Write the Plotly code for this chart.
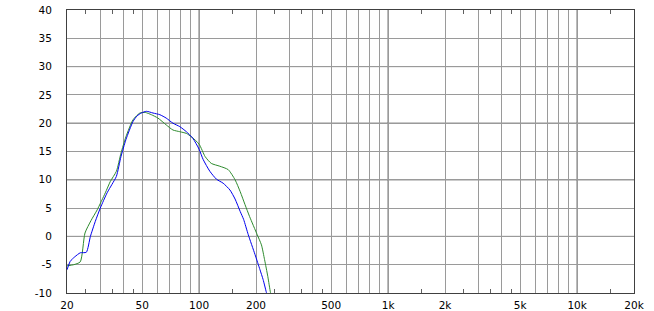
import plotly.graph_objects as go

# --- data ---
blue_f = [20, 20.8, 22.0, 23.5, 25.3, 26.6, 28.2, 30.0, 32.6, 34.6, 36.5, 38.6, 41.0, 44.7, 47.0, 49.5, 52.6, 57, 62, 67, 72.7,
          79, 85.6, 92.8, 100, 105, 114, 123.6, 134, 145.6, 155, 165, 172, 182, 197.6, 210, 218, 227, 232]
blue_v = [-5.9, -4.4, -3.6, -2.9, -2.8, 0.0, 2.6, 5.0, 7.7, 9.2, 10.6, 14.1, 17.1, 20.3, 21.3, 21.8, 22.1, 21.8, 21.5, 20.9, 20.0,
          19.4, 18.5, 17.3, 15.4, 13.6, 11.5, 10.1, 9.4, 8.2, 6.6, 4.4, 3.0, 0.3, -3.2, -5.9, -7.6, -9.9, -11]

green_f = [20, 21.7, 23.5, 24.9, 26.8, 28.9, 31.9, 33.9, 36.5, 38.6, 41, 44.7, 48.6, 51.9, 55.9, 60.6, 67, 72.7,
           79, 85.6, 91, 100, 107.6, 116, 128.7, 142.5, 155, 165, 175, 185, 203, 213.7, 222, 231, 238.5, 243]
green_v = [-5.2, -5.0, -4.5, 0.6, 2.8, 4.7, 7.7, 9.7, 11.5, 14.7, 17.6, 20.6, 21.8, 21.9, 21.5, 20.9, 19.7, 18.8,
           18.5, 18.2, 17.6, 16.3, 14.1, 12.9, 12.4, 11.8, 10.0, 7.9, 5.6, 3.5, 0.3, -1.5, -4.1, -7.1, -9.9, -11]

x_grid = [20, 30, 40, 50, 60, 70, 80, 90, 100, 200, 300, 400, 500, 600, 700, 800, 900,
          1000, 2000, 3000, 4000, 5000, 6000, 7000, 8000, 9000, 10000, 20000]
x_labels = {20: "20", 50: "50", 100: "100", 200: "200", 500: "500", 1000: "1k",
            2000: "2k", 5000: "5k", 10000: "10k", 20000: "20k"}
x_minor = [25, 35, 45, 150, 250, 350, 450, 1500, 2500, 3500, 4500, 15000]
x_major_dark = [100, 1000, 10000]
y_ticks = [-10, -5, 0, 5, 10, 15, 20, 25, 30, 35, 40]
y_major_dark = [0, 10, 20, 30]

LIGHT = "#9a9a9a"
DARK = "#505050"
FONT = dict(family="DejaVu Sans, Verdana, sans-serif", size=10.5, color="#000000")

fig = go.Figure()
fig.add_trace(go.Scatter(x=green_f, y=green_v, mode="lines",
                         line=dict(color="#2e8b2e", width=1, shape="spline", smoothing=0.6), showlegend=False))
fig.add_trace(go.Scatter(x=blue_f, y=blue_v, mode="lines",
                         line=dict(color="#0000ee", width=1, shape="spline", smoothing=0.6), showlegend=False))

shapes = []
for xv in x_major_dark:
    shapes.append(dict(type="line", xref="x", yref="paper", x0=xv, x1=xv, y0=0, y1=1,
                       line=dict(color=DARK, width=1), layer="between"))
for yv in y_major_dark:
    shapes.append(dict(type="line", xref="paper", yref="y", x0=0, x1=1, y0=yv, y1=yv,
                       line=dict(color=DARK, width=1), layer="between"))

fig.update_layout(
    width=654, height=311,
    margin=dict(l=67, r=20, t=10, b=18),
    paper_bgcolor="white", plot_bgcolor="white",
    font=FONT,
    shapes=shapes,
    xaxis=dict(
        type="log", range=[1.30103, 4.30103], automargin=False,
        tickmode="array", tickvals=x_grid,
        ticktext=[x_labels.get(v, "") for v in x_grid],
        ticks="", showgrid=True, gridcolor=LIGHT, gridwidth=1,
        showline=True, linecolor="#404040", linewidth=1, mirror="ticks",
        zeroline=False, tickfont=FONT, ticklabelstandoff=2,
        minor=dict(tickmode="array", tickvals=x_minor, ticks="inside", ticklen=4,
                   tickcolor="#606060", tickwidth=1, showgrid=False),
    ),
    yaxis=dict(
        range=[-10, 40], tickmode="array", tickvals=y_ticks, automargin=False,
        ticktext=[str(v) for v in y_ticks],
        ticks="", showgrid=True, gridcolor=LIGHT, gridwidth=1,
        showline=True, linecolor="#404040", linewidth=1, mirror=True,
        zeroline=False, tickfont=FONT, ticklabelstandoff=12,
    ),
)

fig.write_html("out.html")
